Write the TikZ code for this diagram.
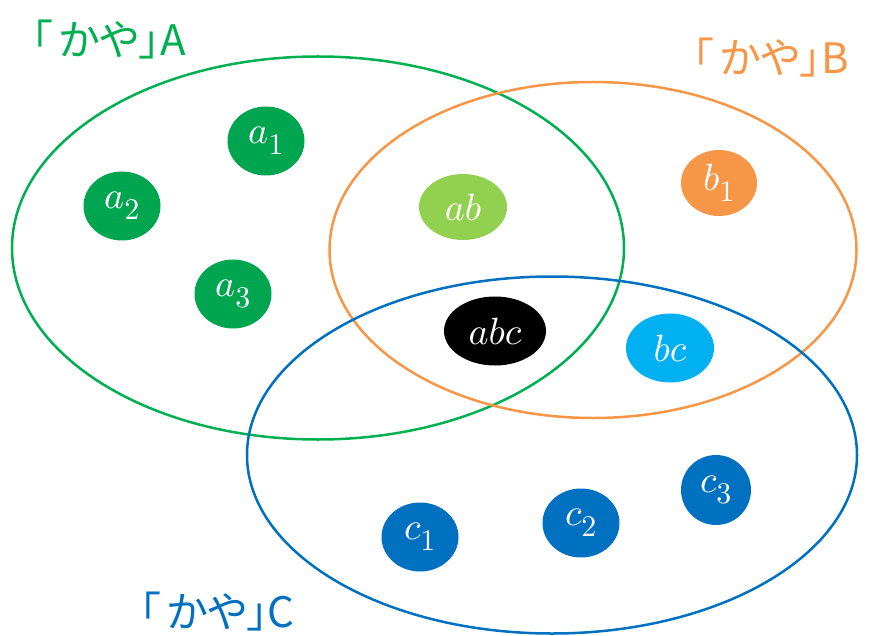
\documentclass[tikz,border=0pt]{standalone}
\usepackage{fontspec}
\DeclareFontShape{OML}{cmm}{m}{it}{<->cmmi10}{}
\DeclareFontShape{OT1}{cmr}{m}{n}{<->cmr10}{}
\DeclareMathSizes{38}{38}{30}{22}
\newfontfamily\jpfont[RawFeature=+palt]{Noto Sans CJK JP}
\usetikzlibrary{shapes.geometric}
\definecolor{cgreen}{HTML}{00B050}
\definecolor{cdgreen}{HTML}{00A550}
\definecolor{corange}{HTML}{F79646}
\definecolor{cblue}{HTML}{0070C0}
\definecolor{clgreen}{HTML}{92D050}
\definecolor{clblue}{HTML}{00B0F0}
\tikzset{
  setring/.style={ellipse, draw=#1, line width=2.5pt, inner sep=0pt},
  elem/.style={ellipse, fill=#1, text=white, inner sep=0pt,
    minimum width=77pt, minimum height=69pt,
    font=\fontsize{38}{44}\selectfont},
  setlabel/.style={text=#1, font=\jpfont\fontsize{42}{48}\selectfont, inner sep=0pt}
}
\begin{document}
\begin{tikzpicture}[x=1pt,y=-1pt]
\useasboundingbox (0,0) rectangle (869,636);
% sets
\node[setring=cgreen, minimum width=612pt, minimum height=383pt] (A) at (318,248) {};
\node[setring=corange, minimum width=527pt, minimum height=336pt] (B) at (593,250) {};
\node[setring=cblue, minimum width=610pt, minimum height=357pt] (C) at (552,455) {};
% labels
\node[setlabel=cgreen] (LA) at (109,40) {「\kern0.15em かや」A};
\node[setlabel=corange] (LB) at (771,58) {「\kern0.15em かや」B};
\node[setlabel=cblue] (LC) at (217,612) {「\kern0.15em かや」C};
% elements
\node[elem=cdgreen] (a1) at (266,141) {$a_1$};
\node[elem=cdgreen] (a2) at (122,206) {$a_2$};
\node[elem=cdgreen] (a3) at (233,294) {$a_3$};
\node[elem=clgreen, minimum width=88pt, minimum height=66pt] (ab) at (463,207) {$ab$};
\node[elem=corange, minimum width=76pt, minimum height=66pt] (b1) at (719,183) {$b_1$};
\node[elem=black, minimum width=102pt, minimum height=69pt] (abc) at (495,331) {$abc$};
\node[elem=clblue, minimum width=88pt, minimum height=69pt] (bc) at (670,348) {$bc$};
\node[elem=cblue] (c1) at (420,537) {$c_1$};
\node[elem=cblue] (c2) at (581,523) {$c_2$};
\node[elem=cblue, minimum width=70pt, minimum height=70pt] (c3) at (716,490) {$c_3$};
\end{tikzpicture}
\end{document}
